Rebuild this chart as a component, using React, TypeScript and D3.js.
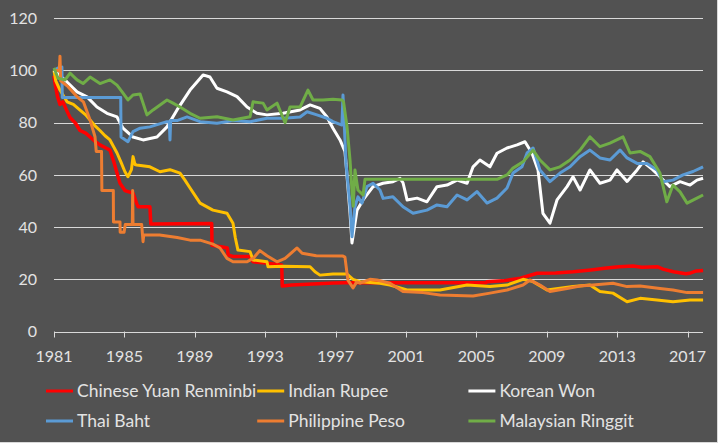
import React from 'react';
import * as d3 from 'd3';

// [year, index value] pairs (1981 = 100)
const cny: [number, number][] = [
  [1981.0, 98], [1981.06, 95], [1981.2, 90], [1981.34, 87], [1981.5, 88], [1981.7, 85],
  [1981.91, 82], [1982.2, 80], [1982.48, 77], [1982.8, 76], [1983.05, 74.5], [1983.3, 73],
  [1983.61, 71.5], [1983.9, 70.5], [1984.18, 69.5], [1984.4, 65], [1984.58, 60.7],
  [1984.75, 56.8], [1985.03, 54], [1985.49, 53], [1985.7, 49], [1985.78, 47.8],
  [1986.45, 47.8], [1986.5, 41.2], [1989.96, 41.4], [1989.98, 33], [1990.5, 32.5],
  [1990.85, 32], [1990.9, 29.3], [1991.2, 28.7], [1992.1, 28.7], [1992.31, 26.7],
  [1993.1, 26.2], [1993.94, 25.5], [1993.97, 17.4], [1994.5, 17.8], [1995.7, 18.2],
  [1996.9, 18.6], [1997.5, 18.7], [2005.55, 18.7], [2005.6, 19.1], [2006.5, 19.4],
  [2007.5, 20.4], [2008.45, 22.3], [2009.5, 22.4], [2010.5, 22.9], [2011.5, 23.6],
  [2012.4, 24.3], [2013.1, 24.8], [2013.9, 25.1], [2014.4, 24.6], [2015.3, 24.8],
  [2015.6, 23.9], [2016.2, 22.9], [2016.9, 22.1], [2017.1, 22.3], [2017.5, 23.2],
  [2017.88, 23.4],
];

const inr: [number, number][] = [
  [1981.0, 100], [1981.1, 96], [1981.34, 92.5], [1981.74, 88], [1982.1, 87], [1982.48, 84.8],
  [1982.8, 83], [1983.05, 81], [1983.3, 79], [1983.61, 77], [1983.9, 75], [1984.18, 73.4],
  [1984.58, 68.4], [1984.8, 65], [1985.03, 61.2], [1985.2, 59.3], [1985.4, 62], [1985.49, 67],
  [1985.6, 64], [1985.7, 63.8], [1986.45, 63.1], [1987.02, 61.2], [1987.59, 62],
  [1988.16, 60.7], [1988.44, 58], [1988.73, 55], [1989.3, 49.2], [1990.03, 46.5],
  [1990.83, 45.3], [1991.17, 41.5], [1991.3, 36], [1991.45, 31.2], [1992.14, 30.6],
  [1992.31, 27.4], [1993.1, 26.7], [1993.16, 24.8], [1994.01, 25], [1995.55, 24.8],
  [1995.83, 22.9], [1996.11, 21.6], [1996.85, 22], [1997.65, 22], [1997.99, 20],
  [1998.39, 19.1], [1999.52, 18.5], [2000.09, 17.8], [2001.06, 15.9], [2002.93, 15.9],
  [2004.47, 17.8], [2005.77, 17.2], [2006.74, 17.8], [2007.65, 20], [2008.22, 19.1],
  [2009.01, 15.9], [2010.49, 17.2], [2011.45, 17.8], [2012.02, 15.3], [2012.76, 14.7],
  [2013.56, 11.4], [2014.3, 12.7], [2015.26, 12.1], [2016.17, 11.4], [2017.14, 12.1],
  [2017.88, 12.1],
];

const krw: [number, number][] = [
  [1981.0, 100], [1981.17, 99], [1981.74, 95.6], [1982.31, 91.8], [1982.88, 89.9],
  [1983.44, 86], [1984.01, 83.6], [1984.58, 82.2], [1984.92, 77.9], [1985.49, 74.5],
  [1986.06, 73.4], [1986.85, 74.5], [1987.42, 78.4], [1987.99, 84.9], [1988.73, 92.5],
  [1989.47, 98.3], [1989.86, 97.5], [1990.26, 93.2], [1990.83, 91.8], [1991.4, 90],
  [1991.97, 86], [1992.53, 83.6], [1993.1, 83], [1994.01, 83.6], [1994.98, 84.9],
  [1995.55, 86.8], [1996.11, 85.5], [1996.51, 82.2], [1996.85, 77.9], [1997.25, 73.4],
  [1997.53, 69], [1997.59, 64.5], [1997.82, 45.3], [1997.93, 33.9], [1998.22, 46.5],
  [1998.56, 50.4], [1999.13, 55.5], [1999.69, 56.8], [2000.26, 57.4], [2000.66, 58.7],
  [2000.83, 57], [2001.06, 50.4], [2001.63, 51.1], [2002.19, 49.7], [2002.76, 55.5],
  [2003.33, 56.1], [2003.9, 58], [2004.47, 56.8], [2004.81, 63.1], [2005.2, 65.7],
  [2005.77, 63.1], [2006.17, 68.3], [2006.74, 70.3], [2007.31, 71.5], [2007.76, 72.7],
  [2008.16, 68.3], [2008.5, 61.9], [2008.78, 45.3], [2009.18, 41.5], [2009.58, 50.4],
  [2010.15, 55.5], [2010.49, 59.3], [2010.89, 54.2], [2011.45, 61.9], [2012.02, 56.8],
  [2012.59, 58], [2012.99, 61.9], [2013.56, 57.5], [2014.13, 61.9], [2014.47, 65],
  [2015.03, 61.9], [2015.43, 59.3], [2015.99, 55.5], [2016.57, 57.4], [2017.14, 56.1],
  [2017.53, 58], [2017.88, 58.7],
];

const thb: [number, number][] = [
  [1981.0, 100], [1981.23, 101], [1981.45, 101.3], [1981.47, 89.7], [1984.79, 89.7],
  [1984.81, 74.5], [1985.2, 72.7], [1985.49, 76.6], [1985.89, 77.9], [1986.45, 78.4],
  [1987.42, 80.4], [1987.55, 80.4], [1987.59, 73.4], [1987.63, 80.8], [1987.99, 80.8],
  [1988.56, 82.2], [1989.3, 80.4], [1990.26, 79.8], [1991.17, 80.8], [1992.14, 80.4],
  [1993.1, 81.7], [1994.01, 81.7], [1994.98, 82.2], [1995.38, 84.2], [1995.94, 83],
  [1996.51, 81.7], [1996.85, 80.4], [1997.36, 79.1], [1997.42, 90.6], [1997.59, 64.5],
  [1997.82, 47.8], [1997.93, 36.3], [1998.1, 47.8], [1998.27, 51.6], [1998.5, 49.2],
  [1998.78, 55.5], [1999.13, 56.8], [1999.52, 54.2], [1999.7, 51], [2000.26, 51.6],
  [2000.83, 47.8], [2001.4, 45.3], [2002.19, 46.5], [2002.76, 48.5], [2003.33, 47.8],
  [2003.9, 52.3], [2004.47, 50.4], [2005.03, 53.6], [2005.6, 49.2], [2006.17, 51.1],
  [2006.74, 55], [2007.08, 60.7], [2007.59, 63.1], [2007.88, 68.4], [2008.22, 70.3],
  [2008.61, 61.9], [2009.18, 57.4], [2009.75, 60.7], [2010.32, 63.1], [2010.89, 67],
  [2011.45, 69.5], [2012.02, 66.5], [2012.59, 65.7], [2013.16, 69.5], [2013.56, 66.5],
  [2014.13, 64.4], [2014.69, 64.4], [2015.26, 61.9], [2015.6, 57.4], [2016.17, 58],
  [2016.74, 60], [2017.31, 61.3], [2017.88, 63.1],
];

const php: [number, number][] = [
  [1981.0, 100], [1981.3, 100], [1981.34, 105.5], [1981.38, 96], [1981.8, 93.8],
  [1982.3, 90], [1982.67, 88], [1983.05, 81], [1983.33, 74.6], [1983.4, 69], [1983.7, 69],
  [1983.72, 54], [1984.37, 54], [1984.38, 42], [1984.75, 42], [1984.76, 38], [1984.98, 38],
  [1985.05, 41], [1985.45, 41], [1985.47, 54], [1985.49, 41], [1985.98, 41], [1986.06, 34.4],
  [1986.1, 37], [1987.0, 37], [1988.0, 36], [1988.73, 35], [1989.3, 35], [1990.03, 33.5],
  [1990.43, 32], [1990.83, 28], [1991.17, 26.7], [1991.97, 26.7], [1992.31, 28],
  [1992.7, 31], [1993.1, 29], [1993.67, 26.7], [1994.13, 28], [1994.81, 32], [1995.1, 30],
  [1995.9, 29], [1997.42, 28.9], [1997.53, 28.5], [1997.7, 19.7], [1997.99, 16.7],
  [1998.2, 19], [1998.39, 18.5], [1998.95, 20], [1999.35, 19.7], [2000.09, 18.5],
  [2000.83, 15.3], [2001.97, 14.9], [2002.93, 14], [2004.81, 13.6], [2005.77, 14.7],
  [2006.74, 15.9], [2007.65, 17.8], [2008.05, 19.7], [2008.61, 17.8], [2009.18, 15.3],
  [2010.15, 16.5], [2010.89, 17.4], [2011.63, 17.8], [2012.76, 18.5], [2013.56, 17.2],
  [2014.3, 17.4], [2015.43, 16.5], [2016.17, 15.9], [2016.97, 14.9], [2017.88, 14.9],
];

const myr: [number, number][] = [
  [1981.0, 101], [1981.23, 97], [1981.63, 96.4], [1981.91, 99], [1982.31, 96.4],
  [1982.65, 95], [1983.05, 97.5], [1983.61, 95], [1984.18, 96.4], [1984.58, 94.4],
  [1984.86, 91.9], [1985.2, 88.7], [1985.49, 90.6], [1985.89, 91], [1986.28, 83],
  [1986.63, 84.9], [1987.42, 88.7], [1987.76, 87.5], [1988.16, 86], [1988.73, 83.6],
  [1989.3, 81.7], [1990.26, 82.3], [1991.17, 81], [1992.14, 82.3], [1992.31, 88],
  [1992.88, 87.5], [1993.1, 84.9], [1993.67, 87.5], [1994.13, 80], [1994.41, 86],
  [1994.98, 86], [1995.43, 92.5], [1995.72, 88.7], [1996.28, 88.7], [1996.85, 89],
  [1997.36, 88.7], [1997.45, 88], [1997.65, 78.4], [1997.82, 65.7], [1997.93, 54],
  [1998.0, 48], [1998.1, 61.9], [1998.27, 54.2], [1998.56, 52.3], [1998.67, 58.3],
  [2006.17, 58.3], [2006.74, 60], [2007.08, 62.6], [2007.65, 65], [2008.22, 69.5],
  [2008.61, 65.7], [2009.18, 61.9], [2009.75, 63.1], [2010.32, 65.7], [2010.89, 69.5],
  [2011.45, 74.6], [2012.02, 70.8], [2012.59, 72.2], [2013.33, 74.6], [2013.73, 68.4],
  [2014.3, 69], [2014.86, 67], [2015.43, 60.7], [2015.82, 49.7], [2016.17, 56.1],
  [2016.57, 53.5], [2016.97, 49.2], [2017.53, 51.1], [2017.88, 52.3],
];

const seriesNames = [
  'Chinese Yuan Renminbi', 'Indian Rupee', 'Korean Won',
  'Thai Baht', 'Philippine Peso', 'Malaysian Ringgit',
];
const seriesData = [cny, inr, krw, thb, php, myr];
const seriesColors = ['#ff0000', '#ffc000', '#ffffff', '#5b9bd5', '#ed7d31', '#70ad47'];

const yTicks = [0, 20, 40, 60, 80, 100, 120];
const xTicks = [1981, 1985, 1989, 1993, 1997, 2001, 2005, 2009, 2013, 2017];

const W = 718;
const H = 443;
const font = 'Lato, "Open Sans", sans-serif';
const textColor = '#e3e3e3';

const App: React.FC = () => {
  const x = d3.scaleLinear().domain([1981, 2017.875]).range([54, 703]);
  const y = d3.scaleLinear().domain([0, 120]).range([331.5, 18.3]);

  const line = d3.line<[number, number]>()
    .x(d => x(d[0]))
    .y(d => y(d[1]));

  return (
    <svg width={W} height={H} style={{ position: 'absolute', left: 0, top: 0 }}>
      <rect x={0} y={0} width={W} height={H} fill="#d9d9d9" />
      <rect x={0} y={0} width={W - 1} height={H - 1} fill="#525252" />

      {/* gridlines */}
      {yTicks.filter(t => t > 0).map(t => (
        <line key={t} x1={54} x2={703} y1={Math.round(y(t)) + 0.5} y2={Math.round(y(t)) + 0.5}
          stroke="#d9d9d9" strokeWidth={1} />
      ))}
      {/* x axis */}
      <line x1={54} x2={703} y1={Math.round(y(0)) + 0.5} y2={Math.round(y(0)) + 0.5}
        stroke="#d9d9d9" strokeWidth={1} />
      {xTicks.map(t => (
        <line key={t} x1={Math.round(x(t)) + 0.5} x2={Math.round(x(t)) + 0.5}
          y1={y(0)} y2={y(0) + 6} stroke="#d9d9d9" strokeWidth={1} />
      ))}

      {yTicks.map(t => (
        <text key={t} x={37} y={y(t)} dy="0.35em" textAnchor="end"
          fontFamily={font} fontSize={16} fill={textColor}>{t}</text>
      ))}
      {xTicks.map(t => (
        <text key={t} x={x(t)} y={356} dy="0.35em" textAnchor="middle"
          fontFamily={font} fontSize={16} fill={textColor}>{t}</text>
      ))}

      {seriesData.map((d, i) => (
        <path key={seriesNames[i]} d={line(d) ?? ''} fill="none" stroke={seriesColors[i]}
          strokeWidth={i === 0 ? 3.5 : 3} strokeLinejoin="round" />
      ))}

      {/* legend */}
      {seriesNames.map((name, i) => {
        const col = i % 3;
        const row = Math.floor(i / 3);
        const lx = 46 + col * 211.2;
        const ly = 391 + row * 30;
        return (
          <g key={name}>
            <line x1={lx} x2={lx + 27} y1={ly} y2={ly} stroke={seriesColors[i]} strokeWidth={3} />
            <text x={lx + 31} y={ly} dy="0.35em" fontFamily={font} fontSize={17.5} fill={textColor}>{name}</text>
          </g>
        );
      })}
    </svg>
  );
};

export default App;
